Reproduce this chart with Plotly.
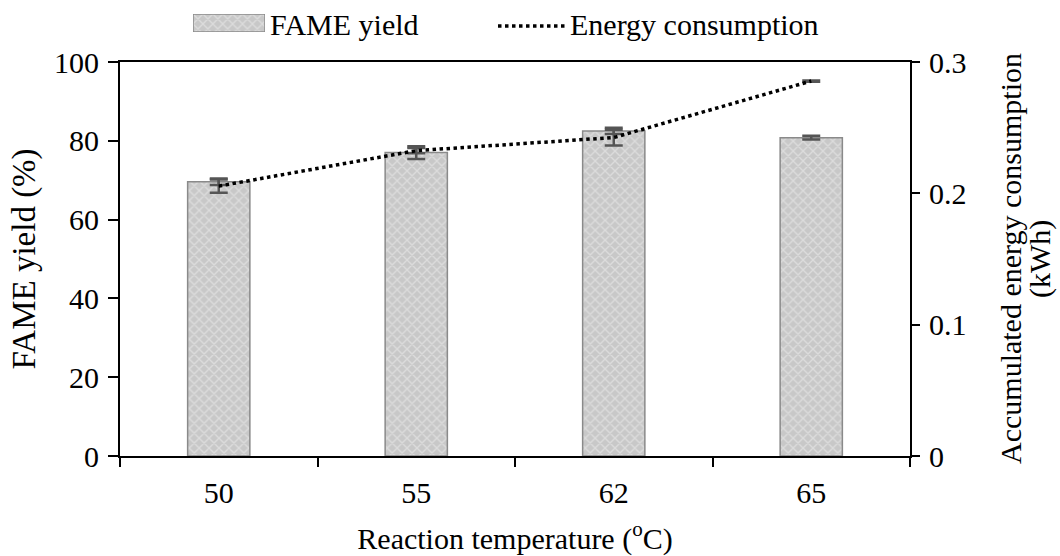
import plotly.graph_objects as go

categories = ["50", "55", "62", "65"]
fame_yield = [69.6, 77.0, 82.5, 80.8]
fame_err = [0.8, 1.6, 0.8, 0.5]
energy = [0.2055, 0.2325, 0.2425, 0.2855]
energy_err = [0.005, 0.002, 0.006, 0.0005]

FONT = "Liberation Serif"
W, H = 1060, 556
ML, MR, MB = 120, 150, 100
PLOT_TOP = 62
plot_h = H - MB
main_top = (plot_h - PLOT_TOP) / plot_h


def px_x(px):
    return (px - ML) / (W - ML - MR)


def px_y(py):
    return (plot_h - py) / plot_h


bar_marker = dict(color="#c8c8c8", line=dict(color="#8a8a8a", width=1.5),
                  pattern=dict(shape="x", fgcolor="#f0f0f0", bgcolor="#c8c8c8", size=7, solidity=0.35))

fig = go.Figure()
fig.add_trace(go.Bar(
    x=categories, y=fame_yield, name="FAME yield", showlegend=False,
    width=0.315, marker=bar_marker,
    error_y=dict(type="data", array=fame_err, color="#555555", thickness=2.5, width=9),
))
fig.add_trace(go.Scatter(
    x=categories, y=energy, name="Energy consumption", yaxis="y2", showlegend=False,
    mode="lines", line=dict(color="black", width=3.5, dash="dot"),
    error_y=dict(type="data", array=energy_err, color="#555555", thickness=2.5, width=9),
))
# legend swatch for the bars (drawn on a hidden mini axis in the header)
fig.add_trace(go.Bar(
    x=[0], y=[1], width=1, showlegend=False, hoverinfo="skip",
    xaxis="x3", yaxis="y3", marker=bar_marker,
))

tick_font = dict(family=FONT, size=30, color="black")
fig.update_layout(
    width=W, height=H,
    margin=dict(l=ML, r=MR, t=0, b=MB, autoexpand=False),
    paper_bgcolor="white", plot_bgcolor="white",
    font=dict(family=FONT, size=30, color="black"),
    showlegend=False,
    xaxis=dict(
        type="category", domain=[0, 1], anchor="y",
        showline=True, linecolor="black", linewidth=2, mirror=True,
        ticks="outside", tickson="boundaries", ticklen=9, tickwidth=1.5, tickcolor="black",
        tickfont=tick_font, ticklabelstandoff=9, showgrid=False,
        title=dict(text="Reaction temperature (<sup>o</sup>C)",
                   font=dict(family=FONT, size=30, color="black"), standoff=20),
    ),
    yaxis=dict(
        domain=[0, main_top], range=[0, 100], dtick=20, showline=True, linecolor="black", linewidth=2,
        ticks="outside", ticklen=10, tickwidth=1.5, tickcolor="black", tickfont=tick_font,
        ticklabelstandoff=3, showgrid=False, zeroline=False,
        title=dict(text="FAME yield (%)", font=dict(family=FONT, size=33, color="black"), standoff=8),
    ),
    yaxis2=dict(
        domain=[0, main_top], range=[0, 0.3], dtick=0.1, overlaying="y", side="right", anchor="x",
        showline=True, linecolor="black", linewidth=2, ticks="outside", ticklen=8, tickwidth=1.5,
        tickcolor="black", tickfont=tick_font, ticklabelstandoff=3,
        showgrid=False, zeroline=False, tickformat="~g",
    ),
    xaxis3=dict(domain=[px_x(193), px_x(265)], anchor="y3", range=[-0.5, 0.5], visible=False,
                fixedrange=True),
    yaxis3=dict(domain=[px_y(32), px_y(14)], anchor="x3", range=[0, 1], visible=False,
                fixedrange=True),
)

# right axis title (two lines placed separately)
mid_y = px_y((PLOT_TOP + plot_h) / 2)
fig.add_annotation(text="Accumulated energy consumption", xref="paper", yref="paper",
                   x=px_x(1011), y=mid_y, xanchor="center", yanchor="middle", textangle=-90,
                   showarrow=False, font=dict(family=FONT, size=30, color="black"))
fig.add_annotation(text="(kWh)", xref="paper", yref="paper",
                   x=px_x(1040), y=mid_y, xanchor="center", yanchor="middle", textangle=-90,
                   showarrow=False, font=dict(family=FONT, size=30, color="black"))

# header legend: dotted line sample and texts
fig.add_shape(type="line", xref="paper", yref="paper",
              x0=px_x(498), x1=px_x(565), y0=px_y(26), y1=px_y(26),
              line=dict(color="black", width=3.5, dash="dot"))
fig.add_annotation(text="FAME yield", xref="paper", yref="paper",
                   x=px_x(268), y=px_y(24), xanchor="left", yanchor="middle",
                   showarrow=False, font=dict(family=FONT, size=30, color="black"))
fig.add_annotation(text="Energy consumption", xref="paper", yref="paper",
                   x=px_x(568), y=px_y(24), xanchor="left", yanchor="middle",
                   showarrow=False, font=dict(family=FONT, size=30, color="black"))

fig.write_html("out.html")
